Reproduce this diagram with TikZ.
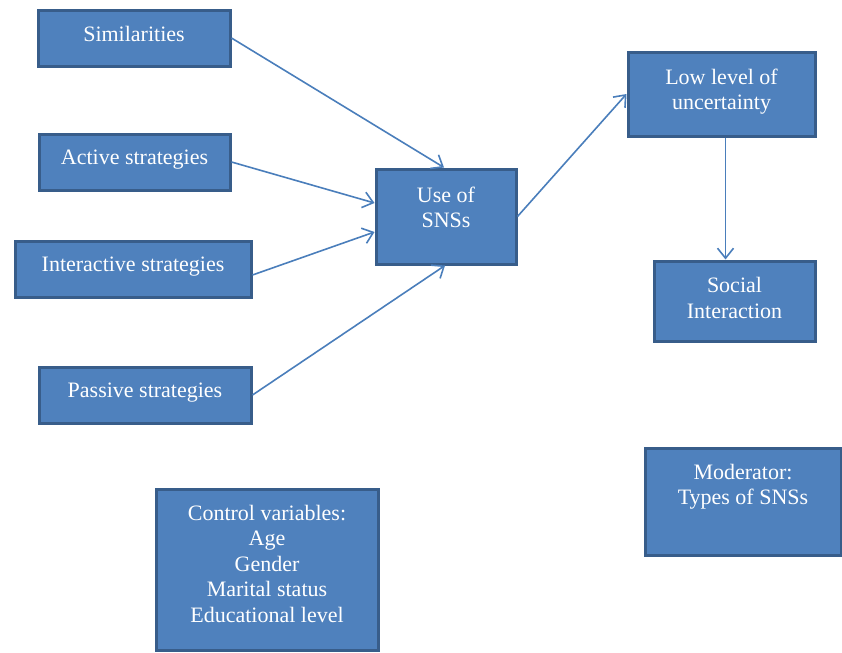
\documentclass[tikz,border=0pt]{standalone}
\usepackage{fontspec}
\setmainfont{Liberation Serif}
\usetikzlibrary{arrows.meta}
\definecolor{boxfill}{RGB}{79,129,189}
\definecolor{boxline}{RGB}{56,93,138}
\definecolor{linkclr}{RGB}{74,126,187}

\begin{document}
\begin{tikzpicture}[
  x=0.5pt,y=-0.5pt,
  >={Straight Barb[length=5pt,width=8pt]},
  box/.style={draw=boxline,fill=boxfill,line width=1.5pt,text=white,
    align=center,font=\fontsize{11}{12.75}\selectfont,text depth=4.5pt,
    inner sep=0pt},
  link/.style={->,linkclr,line width=0.8pt},
]
  \useasboundingbox (0,0) rectangle (842,653);
  % predictors
  \node[box,minimum width=96pt,minimum height=28pt] (sim) at (134,38) {Similarities};
  \node[box,minimum width=95.5pt,minimum height=28pt] (act) at (134.5,162) {Active strategies};
  \node[box,minimum width=118pt,minimum height=28pt] (inter) at (133,269) {Interactive strategies};
  \node[box,minimum width=106pt,minimum height=28pt] (pass) at (145,395) {Passive strategies};
  % mediator and outcomes
  \node[box,minimum width=70pt,minimum height=47.5pt,text depth=9pt] (use) at (446,216.5) {Use of\\SNSs};
  \node[box,minimum width=93.5pt,minimum height=42pt] (low) at (721.5,94) {Low level of\\uncertainty};
  \node[box,minimum width=80.5pt,minimum height=40pt,text depth=3pt] (soc) at (734.5,301) {Social\\Interaction};
  \node[box,minimum width=98pt,minimum height=53.5pt,text depth=17pt] (mod) at (743,501.5) {Moderator:\\Types of SNSs};
  \node[box,minimum width=111pt,minimum height=80.5pt,text depth=6pt] (ctrl) at (267,569.5)
    {Control variables:\\Age\\Gender\\Marital status\\Educational level};
  % links
  \draw[link] (sim.east) -- ([xshift=-1pt]use.north);
  \draw[link] (act.east) -- ([yshift=6.75pt]use.west);
  \draw[link] ([yshift=-3pt]inter.east) -- ([yshift=-7.75pt]use.west);
  \draw[link] (pass.east) -- ([xshift=-0.5pt]use.south);
  \draw[link] (use.east) -- (low.west);
  \draw[link] ([xshift=2pt]low.south) -- ([xshift=2pt]low.south |- soc.north);
\end{tikzpicture}
\end{document}
